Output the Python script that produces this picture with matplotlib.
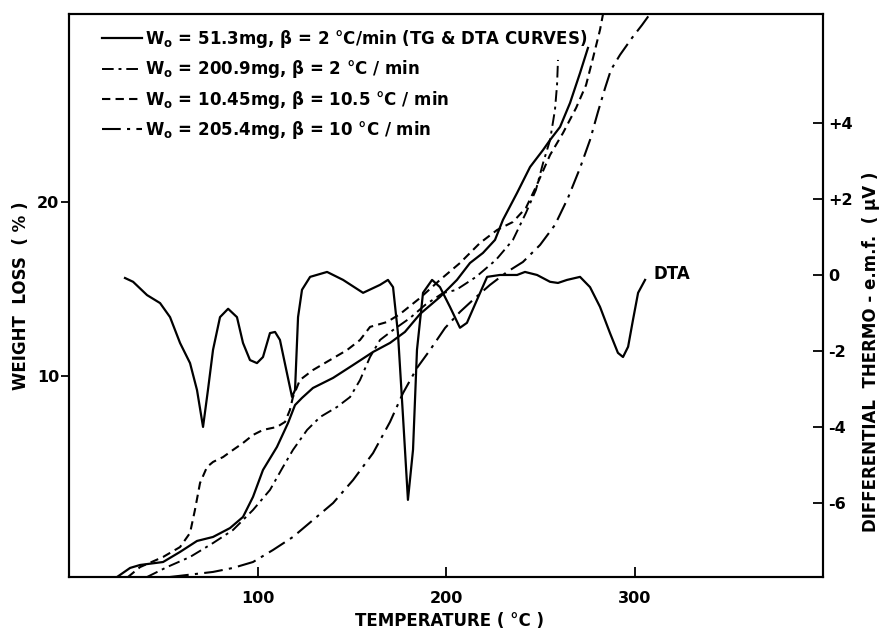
import matplotlib
matplotlib.use("Agg")
import matplotlib.pyplot as plt

plt.rcParams['font.family'] = ['DejaVu Sans']
plt.rcParams['font.weight'] = 'bold'
plt.rcParams['axes.labelweight'] = 'bold'
plt.rcParams['mathtext.default'] = 'bf'

# ---------------- data ----------------
# TG, W0 = 51.3 mg, beta = 2 C/min (solid)
tg1_temp = [25.5, 32.4, 37.7, 49.9, 58.9, 67.9, 76.4, 85.4, 92.3, 97.6, 102.9, 110.3,
            116.2, 119.9, 123.6, 129.4, 140.1, 150.7, 161.3, 170.3, 178.2, 186.2, 196.8,
            205.8, 212.7, 219.6, 226.0, 230.2, 237.7, 244.6, 251.5, 255.2, 260.5, 265.8,
            271.1, 275.3]
tg1_loss = [-1.55, -1.03, -0.86, -0.69, -0.11, 0.52, 0.75, 1.26, 1.90, 3.05, 4.60, 5.92,
            7.30, 8.33, 8.74, 9.31, 9.89, 10.63, 11.38, 11.90, 12.53, 13.56, 14.54,
            15.52, 16.49, 17.07, 17.82, 18.97, 20.52, 22.01, 22.99, 23.56, 24.31, 25.69,
            27.41, 28.85]

# TG, W0 = 200.9 mg, beta = 2 C/min (dash-dot)
tg2_temp = [41.4, 52.0, 64.2, 76.4, 87.0, 97.6, 106.6, 113.5, 118.8, 126.3, 133.2, 142.2,
            149.1, 154.4, 159.7, 165.0, 171.9, 180.9, 188.9, 198.4, 205.3, 215.9, 226.5,
            235.5, 242.4, 247.7, 251.5, 255.2, 257.8, 258.9, 259.4]
tg2_loss = [-1.55, -0.98, -0.40, 0.40, 1.15, 2.30, 3.45, 4.77, 5.75, 6.90, 7.64, 8.22,
            8.79, 9.77, 11.09, 12.07, 12.64, 13.33, 14.08, 14.77, 14.94, 15.69, 16.67,
            17.82, 19.37, 20.69, 22.24, 23.56, 25.29, 26.72, 28.16]

# TG, W0 = 10.45 mg, beta = 10.5 C/min (dashed)
tg3_temp = [31.3, 37.7, 49.9, 58.9, 64.2, 66.8, 69.5, 73.2, 76.4, 81.7, 87.0, 92.3, 97.6,
            102.9, 110.3, 114.6, 117.2, 118.8, 122.5, 129.4, 138.5, 147.5, 154.4, 159.7,
            168.7, 175.6, 186.2, 196.8, 207.4, 218.0, 227.1, 235.5, 242.4, 247.7, 255.2,
            262.1, 269.0, 274.3, 278.0, 281.7, 283.3]
tg3_loss = [-1.55, -0.98, -0.40, 0.17, 0.98, 2.30, 3.85, 4.77, 5.06, 5.34, 5.75, 6.15,
            6.61, 6.90, 7.07, 7.36, 8.05, 8.79, 9.77, 10.34, 10.92, 11.49, 12.07, 12.82,
            13.10, 13.56, 14.48, 15.52, 16.49, 17.64, 18.39, 18.85, 19.66, 20.86, 22.70,
            23.97, 25.40, 26.72, 28.28, 29.89, 30.80]

# TG, W0 = 205.4 mg, beta = 10 C/min (long dash-dot)
tg4_temp = [53.6, 76.4, 87.0, 97.6, 108.2, 118.8, 129.4, 140.1, 150.7, 161.3, 170.3,
            177.2, 184.6, 191.5, 199.5, 207.4, 215.4, 223.3, 232.4, 240.8, 249.9, 257.8,
            264.7, 271.1, 276.4, 280.6, 284.4, 287.5, 292.3, 298.7, 304.0, 308.2]
tg4_loss = [-1.55, -1.26, -1.03, -0.69, 0.0, 0.75, 1.72, 2.70, 4.02, 5.57, 7.36, 9.02,
            10.46, 11.49, 12.76, 13.68, 14.48, 15.23, 15.98, 16.55, 17.53, 18.68, 20.23,
            21.95, 23.56, 25.17, 26.55, 27.59, 28.45, 29.43, 30.17, 30.80]

# DTA, W0 = 51.3 mg (right axis)
dta_temp = [29.7, 34.0, 41.4, 48.3, 53.6, 58.9, 64.2, 67.9, 71.1, 73.7, 76.4, 80.1, 84.4,
            89.1, 92.3, 96.0, 99.7, 102.9, 106.6, 109.3, 111.9, 115.6, 118.3, 119.9, 121.5,
            123.6, 127.9, 136.9, 145.4, 156.0, 165.0, 169.2, 171.9, 174.5, 177.2, 179.8,
            182.5, 184.6, 187.8, 192.6, 196.8, 202.1, 207.4, 211.1, 216.4, 221.8, 228.6,
            237.7, 241.9, 248.3, 255.2, 259.4, 264.2, 271.1, 276.4, 281.7, 287.0, 291.2,
            293.9, 296.6, 299.2, 301.9, 305.6]
dta_emf = [-0.08, -0.18, -0.53, -0.74, -1.11, -1.79, -2.32, -3.03, -4.0, -3.03, -1.97,
           -1.11, -0.89, -1.11, -1.79, -2.24, -2.32, -2.16, -1.53, -1.5, -1.71, -2.58,
           -3.21, -3.03, -1.11, -0.39, -0.05, 0.08, -0.13, -0.47, -0.26, -0.13, -0.32,
           -1.53, -3.74, -5.92, -4.6, -1.97, -0.47, -0.13, -0.32, -0.84, -1.39, -1.26,
           -0.66, -0.05, 0.0, 0.0, 0.08, 0.0, -0.18, -0.21, -0.13, -0.05, -0.32, -0.84,
           -1.53, -2.05, -2.16, -1.89, -1.18, -0.47, -0.13]

x_ticks = [100, 200, 300]
left_ticks = [10, 20]
right_ticks = [-6, -4, -2, 0, 2, 4]
right_ticklabels = ['-6', '-4', '-2', '0', '+2', '+4']

labels = [r"W$_{o}$ = 51.3mg, β = 2 °C/min (TG & DTA CURVES)",
          r"W$_{o}$ = 200.9mg, β = 2 °C / min",
          r"W$_{o}$ = 10.45mg, β = 10.5 °C / min",
          r"W$_{o}$ = 205.4mg, β = 10 °C / min"]

# ---------------- figure ----------------
fig = plt.figure(figsize=(8.86, 6.33), dpi=100)
ax = fig.add_axes([0.0779, 0.0885, 0.851, 0.8894])
ax2 = ax.twinx()

lw = 1.6
l1, = ax.plot(tg1_temp, tg1_loss, color='black', lw=lw, linestyle='-')
l2, = ax.plot(tg2_temp, tg2_loss, color='black', lw=lw - 0.2, dashes=(6, 2.5, 1.5, 2.5))
l3, = ax.plot(tg3_temp, tg3_loss, color='black', lw=lw - 0.1, dashes=(4, 2.5))
l4, = ax.plot(tg4_temp, tg4_loss, color='black', lw=lw - 0.1, dashes=(9, 3, 1.5, 3))
ax2.plot(dta_temp, dta_emf, color='black', lw=lw, linestyle='-')
ax2.annotate("DTA", xy=(dta_temp[-1], dta_emf[-1]), xytext=(6, 4),
             textcoords='offset points', ha='left', va='center', fontsize=12)

ax.set_xlim(0, 400)
ax.set_ylim(-1.55, 30.8)
ax2.set_ylim(-7.95, 6.87)

ax.set_xticks(x_ticks)
ax.set_yticks(left_ticks)
ax2.set_yticks(right_ticks)
ax2.set_yticklabels(right_ticklabels)

ax.tick_params(axis='x', direction='in', length=7, width=1.3, labelsize=11.5, pad=10)
ax.tick_params(axis='y', direction='out', length=6, width=1.3, labelsize=11.5, pad=1)
ax2.tick_params(axis='y', direction='in', length=7, width=1.3, labelsize=11.5, pad=4)

for a in (ax, ax2):
    for s in a.spines.values():
        s.set_linewidth(1.5)

ax.set_xlabel("TEMPERATURE ( °C )", fontsize=12)
ax.xaxis.set_label_coords(0.504, -0.062)
ax.set_ylabel("WEIGHT  LOSS  ( % )", fontsize=12)
ax.yaxis.set_label_coords(-0.052, 0.50)
ax2.set_ylabel("DIFFERENTIAL  THERMO - e.m.f.  ( µV )", fontsize=12, rotation=90)
ax2.yaxis.set_label_coords(1.052, 0.40)

ax2.legend([l1, l2, l3, l4], labels, loc='upper left', bbox_to_anchor=(0.044, 0.975),
           frameon=False, fontsize=12, handlelength=2.4, handletextpad=0.15,
           labelspacing=0.5, borderpad=0, borderaxespad=0)

fig.savefig("out.png", dpi=100)
